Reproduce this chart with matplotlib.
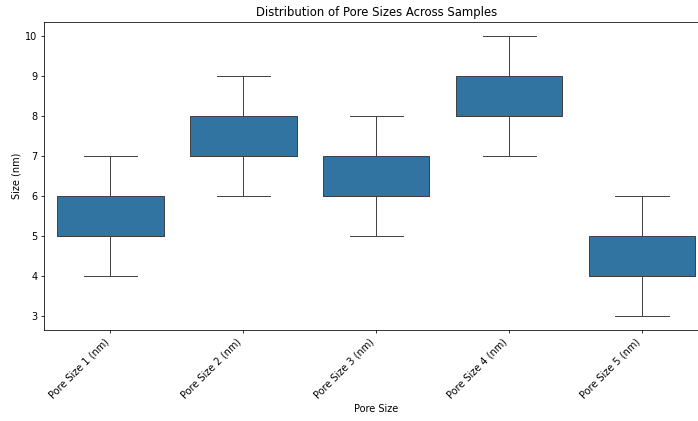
import pandas as pd
import numpy as np
import matplotlib
matplotlib.use('Agg')
import matplotlib.pyplot as plt
import seaborn as sns

# Pore size measurements per sample column (nm)
pore_1 = [4, 5, 5, 6, 7]
pore_2 = [6, 7, 7, 8, 9]
pore_3 = [5, 6, 6, 7, 8]
pore_4 = [7, 8, 8, 9, 10]
pore_5 = [3, 4, 4, 5, 6]
columns = ['Pore Size 1 (nm)', 'Pore Size 2 (nm)', 'Pore Size 3 (nm)',
           'Pore Size 4 (nm)', 'Pore Size 5 (nm)']

data = pd.DataFrame(dict(zip(columns, [pore_1, pore_2, pore_3, pore_4, pore_5])))
long_data = data.melt(var_name='Pore Size', value_name='Size (nm)')

# Figure is 10x6 at reduced dpi so the default styling scales down
fig = plt.figure(figsize=(10, 421 / 69.8), dpi=69.8)
ax = fig.add_axes([44 / 698, 91 / 421, 664.5 / 698, 308 / 421])
sns.boxplot(data=long_data, x='Pore Size', y='Size (nm)', ax=ax)

ax.set_title('Distribution of Pore Sizes Across Samples')
plt.setp(ax.get_xticklabels(), rotation=45, ha='right')

fig.savefig('out.png', dpi=69.8)
